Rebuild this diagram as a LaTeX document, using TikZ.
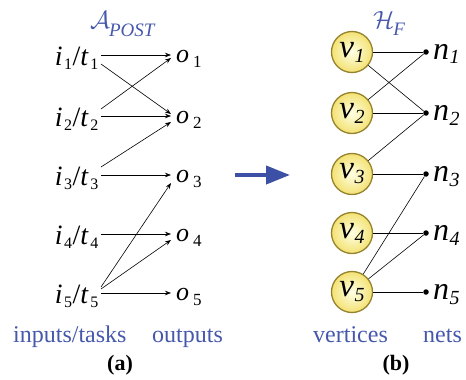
\documentclass[tikz,border=0pt]{standalone}
\usepackage{fontspec}
\setmainfont{Liberation Serif}
\usetikzlibrary{arrows.meta,calc}
\definecolor{lblue}{RGB}{70,88,172}
\definecolor{abl}{RGB}{60,80,165}
\definecolor{cedge}{RGB}{150,130,45}
\definecolor{cin}{RGB}{255,255,230}
\definecolor{cout}{RGB}{243,226,115}
\newcommand\subL[2]{\textit{#1}\kern1.5pt\raisebox{-4pt}{\fontsize{16}{16}\selectfont #2}\kern0.5pt}
\newcommand\subO[2]{\textit{#1}\kern4pt\raisebox{-5pt}{\fontsize{17}{17}\selectfont #2}}
\newcommand\subV[2]{\textit{#1}\kern0.5pt\raisebox{-5pt}{\fontsize{20}{20}\selectfont\textit{#2}}}
\begin{document}
\begin{tikzpicture}[x=1pt,y=-1pt,
  lab/.style={inner sep=0pt, font=\fontsize{28}{30}\selectfont},
  olab/.style={inner sep=0pt, font=\fontsize{26}{28}\selectfont},
  rlab/.style={inner sep=0pt, font=\fontsize{32}{34}\selectfont},
  blab/.style={inner sep=0pt, text=lblue, font=\fontsize{24}{26}\selectfont},
  sublab/.style={inner sep=0pt, font=\bfseries\fontsize{22}{24}\selectfont},
  arr/.style={-{Stealth[length=6pt,width=4.5pt]}, line width=0.6pt},
  hedge/.style={line width=0.6pt},
  vert/.style={circle, draw=cedge, line width=1.3pt, inner color=cin, outer color=cout, minimum size=41pt, inner sep=0pt},
  net/.style={circle, fill=black, inner sep=0pt, minimum size=5.5pt}]
\useasboundingbox (0,0) rectangle (466,380);

% titles
\node[anchor=base west, inner sep=0pt, text=lblue, font=\fontsize{27}{27}\selectfont] (tA) at (90,28) {$\mathcal{A}$\kern-1pt\raisebox{-8pt}{\fontsize{19}{19}\selectfont\textit{POST}}};
\node[anchor=base west, inner sep=0pt, text=lblue, font=\fontsize{27}{27}\selectfont] (tH) at (373,28) {$\mathcal{H}$\kern-1pt\raisebox{-7pt}{\fontsize{19}{19}\selectfont\textit{F}}};

% left labels
\foreach \k/\y in {1/55,2/116,3/175,4/234,5/293}{
  \node[lab, anchor=base east] (i\k) at (99,\y+10) {\subL{i}{\k}/\subL{t}{\k}};
  \node[olab, anchor=base west] (o\k) at (176,\y+7) {\subO{o}{\k}};
  \coordinate (L\k) at (101,\y);
  \coordinate (R\k) at (171,\y);
}
% arrows
\draw[arr] (L1) -- (R1);
\draw[arr] ($(L1)+(0,9)$) -- ($(R2)+(0,-2)$);
\draw[arr] ($(L2)+(0,-7)$) -- ($(R1)+(0,3)$);
\draw[arr] (L2) -- (R2);
\draw[arr] ($(L3)+(0,-8)$) -- ($(R2)+(0,6)$);
\draw[arr] (L3) -- (R3);
\draw[arr] (L4) -- (R4);
\draw[arr] ($(L5)+(0,-6)$) -- ($(R3)+(0,8)$);
\draw[arr] ($(L5)+(0,-4)$) -- ($(R4)+(0,6)$);
\draw[arr] (L5) -- (R5);

% big arrow
\coordinate (ba) at (235,175);
\coordinate (bb) at (290,175);
\draw[abl, line width=4pt, -{Triangle[length=24pt,width=18pt]}] (ba) -- (bb);

% right side
\foreach \k/\y in {1/52,2/113,3/174,4/233,5/292}{
  \node[vert] (v\k) at (352,\y) {\fontsize{33}{34}\selectfont\subV{v}{\k}};
  \node[net] (n\k) at (426,\y) {};
  \node[rlab, anchor=base west] (nl\k) at (433,\y+7) {\subV{n}{\k}};
}
\draw[hedge] (v1) -- (n1);
\draw[hedge] (v1) -- (n2);
\draw[hedge] (v2) -- (n1);
\draw[hedge] (v2) -- (n2);
\draw[hedge] (v3) -- (n2);
\draw[hedge] (v3) -- (n3);
\draw[hedge] (v5) -- (n3);
\draw[hedge] (v4) -- (n4);
\draw[hedge] (v5) -- (n4);
\draw[hedge] (v5) -- (n5);

% bottom labels
\node[blab, anchor=base west] (inp) at (13,342) {inputs/tasks};
\node[blab, anchor=base west] (outp) at (152,342) {outputs};
\node[blab, anchor=base west] (vert) at (313,342) {vertices};
\node[blab, anchor=base west] (nets) at (423,342) {nets};
\node[sublab, anchor=base] (capa) at (120,370) {(a)};
\node[sublab, anchor=base] (capb) at (396,370) {(b)};
\end{tikzpicture}
\end{document}
